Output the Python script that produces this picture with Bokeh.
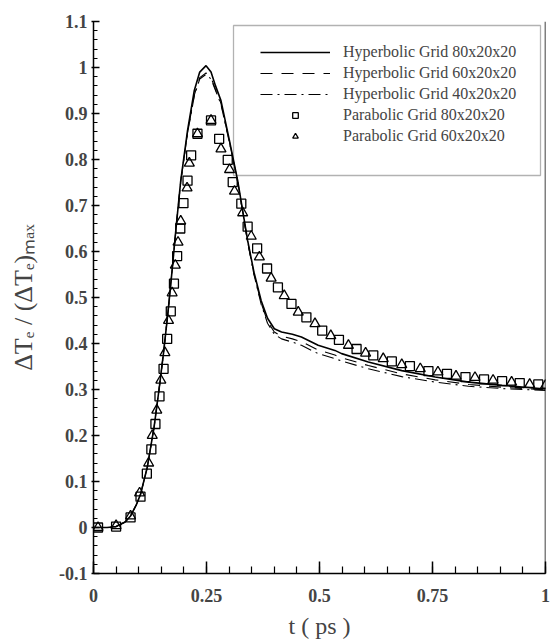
from bokeh.plotting import figure
from bokeh.models import (Range1d, SingleIntervalTicker, CustomJSTickFormatter,
                          Legend, LegendItem, BoxAnnotation, Span)
from bokeh.embed import file_html
from bokeh.resources import INLINE

# ---------------- data ----------------
hyp80_t = [0, 0.03, 0.05, 0.07, 0.082, 0.095, 0.104, 0.119, 0.134, 0.145, 0.155, 0.165, 0.175,
           0.182, 0.193, 0.208, 0.223, 0.235, 0.249, 0.26, 0.27, 0.282, 0.30, 0.319, 0.341,
           0.355, 0.371, 0.385, 0.40, 0.416, 0.44, 0.46, 0.497, 0.534, 0.549, 0.608, 0.682,
           0.756, 0.83, 0.904, 1.0]
hyp80_v = [0, 0.0, 0.002, 0.012, 0.025, 0.05, 0.072, 0.131, 0.218, 0.30, 0.38, 0.47, 0.57,
           0.645, 0.754, 0.863, 0.95, 0.99, 1.004, 0.99, 0.96, 0.928, 0.845, 0.754, 0.624,
           0.555, 0.493, 0.455, 0.432, 0.425, 0.42, 0.414, 0.396, 0.385, 0.378, 0.36, 0.341,
           0.327, 0.316, 0.309, 0.301]
hyp60_v = [0, 0.0, 0.002, 0.012, 0.025, 0.05, 0.072, 0.131, 0.218, 0.30, 0.38, 0.47, 0.57,
           0.645, 0.752, 0.858, 0.94, 0.978, 0.988, 0.978, 0.952, 0.922, 0.842, 0.752, 0.622,
           0.552, 0.488, 0.448, 0.425, 0.416, 0.41, 0.404, 0.386, 0.375, 0.369, 0.352, 0.334,
           0.321, 0.311, 0.305, 0.299]
hyp40_v = [0, 0.0, 0.002, 0.012, 0.025, 0.05, 0.072, 0.131, 0.218, 0.30, 0.38, 0.47, 0.57,
           0.645, 0.752, 0.857, 0.938, 0.975, 0.985, 0.975, 0.95, 0.92, 0.84, 0.75, 0.62,
           0.55, 0.485, 0.444, 0.42, 0.41, 0.403, 0.396, 0.378, 0.367, 0.362, 0.345, 0.328,
           0.316, 0.307, 0.302, 0.298]

par80_t = [0.01, 0.05, 0.082, 0.104, 0.118, 0.128, 0.137, 0.146, 0.155, 0.163, 0.171, 0.178,
           0.185, 0.192, 0.199, 0.208, 0.216, 0.23, 0.26, 0.278, 0.297, 0.308, 0.327, 0.341,
           0.362, 0.384, 0.408, 0.438, 0.471, 0.506, 0.543, 0.582, 0.619, 0.66, 0.70, 0.741,
           0.782, 0.823, 0.864, 0.904, 0.943, 0.984]
par80_v = [0, 0.002, 0.022, 0.067, 0.117, 0.17, 0.225, 0.285, 0.345, 0.41, 0.47, 0.53, 0.59,
           0.65, 0.705, 0.754, 0.809, 0.856, 0.885, 0.845, 0.799, 0.751, 0.704, 0.654, 0.607,
           0.563, 0.522, 0.486, 0.457, 0.428, 0.408, 0.388, 0.374, 0.361, 0.351, 0.34, 0.334,
           0.327, 0.322, 0.318, 0.314, 0.311]

par60_t = [0.01, 0.05, 0.082, 0.102, 0.122, 0.13, 0.14, 0.149, 0.158, 0.166, 0.174, 0.181,
           0.187, 0.193, 0.207, 0.212, 0.23, 0.26, 0.282, 0.301, 0.312, 0.33, 0.349, 0.367,
           0.393, 0.422, 0.453, 0.49, 0.525, 0.564, 0.602, 0.641, 0.682, 0.723, 0.762, 0.802,
           0.844, 0.884, 0.925, 0.965, 1.0]
par60_v = [0, 0.004, 0.025, 0.075, 0.14, 0.2, 0.255, 0.32, 0.38, 0.45, 0.51, 0.57, 0.62,
           0.666, 0.738, 0.792, 0.856, 0.885, 0.823, 0.778, 0.731, 0.684, 0.633, 0.588, 0.542,
           0.504, 0.468, 0.443, 0.417, 0.396, 0.379, 0.367, 0.354, 0.345, 0.338, 0.329, 0.326,
           0.32, 0.316, 0.311, 0.309]

series_labels = ["Hyperbolic Grid 80x20x20", "Hyperbolic Grid 60x20x20", "Hyperbolic Grid 40x20x20",
                 "Parabolic Grid 80x20x20", "Parabolic Grid 60x20x20"]
x_label = "t ( ps )"
y_label = "ΔTₑ / (ΔTₑ)ₘₐₓ"

# ---------------- figure ----------------
FONT = "Liberation Serif"
L, R, T, B = 93, 5, 21, 71
W, H = 550, 644
FW, FH = W - L - R, H - T - B

p = figure(width=W, height=H, output_backend="svg", toolbar_location=None,
           x_range=Range1d(0, 1), y_range=Range1d(-0.1, 1.1),
           min_border_left=L, min_border_right=R, min_border_top=T, min_border_bottom=B)
p.outline_line_color = None
p.grid.visible = False

fmt = CustomJSTickFormatter(code="return Number(tick.toFixed(2)).toString();")

xa = p.xaxis[0]
xa.ticker = SingleIntervalTicker(interval=0.25, num_minor_ticks=5)
xa.formatter = fmt
xa.axis_label = x_label
xa.axis_label_text_font = FONT
xa.axis_label_text_font_size = "24px"
xa.axis_label_text_font_style = "normal"
xa.axis_label_standoff = 8
xa.major_label_text_font = FONT
xa.major_label_text_font_size = "18px"
xa.major_label_text_font_style = "bold"
xa.major_tick_in = 12
xa.major_tick_out = 0
xa.minor_tick_in = 7
xa.minor_tick_out = 0
xa.major_label_standoff = 15
xa.axis_line_width = 1.5
xa.major_tick_line_width = 1.5
xa.minor_tick_line_width = 1.2

ya = p.yaxis[0]
ya.ticker = SingleIntervalTicker(interval=0.1, num_minor_ticks=5)
ya.formatter = fmt
ya.axis_label = y_label
ya.axis_label_text_font = FONT
ya.axis_label_text_font_size = "26px"
ya.axis_label_text_font_style = "normal"
ya.axis_label_standoff = 18
ya.major_label_text_font = FONT
ya.major_label_text_font_size = "18px"
ya.major_label_text_font_style = "bold"
ya.major_tick_in = 6
ya.major_tick_out = 2
ya.minor_tick_in = 4
ya.minor_tick_out = 0
ya.major_label_standoff = 4
ya.axis_line_width = 1.5
ya.major_tick_line_width = 1.5
ya.minor_tick_line_width = 1.2

# right-hand frame line
p.add_layout(Span(location=1, dimension="height", line_color="black", line_width=1.5))

# ---------------- series ----------------
r1 = p.line(hyp80_t, hyp80_v, line_color="black", line_width=1.6)
r2 = p.line(hyp80_t, hyp60_v, line_color="black", line_width=1.1, line_dash="12 9")
r3 = p.line(hyp80_t, hyp40_v, line_color="black", line_width=1.1, line_dash="12 5 2 5")
r4 = p.scatter(par80_t, par80_v, marker="square", size=9, fill_color=None,
               line_color="black", line_width=1.3)
r5 = p.scatter(par60_t, par60_v, marker="triangle", size=10, fill_color=None,
               line_color="black", line_width=1.3)

# ---------------- legend ----------------
def fx(px):
    return (px - L) / FW

def fy(py):
    return (T + FH - py) / FH * 1.2 - 0.1

p.add_layout(BoxAnnotation(left=fx(233), right=fx(540), top=fy(25), bottom=fy(175),
                           fill_alpha=0, line_color="black", line_width=1.3))

legend = Legend(items=[LegendItem(label=lab, renderers=[r])
                       for lab, r in zip(series_labels, [r1, r2, r3, r4, r5])],
                location=(260 - L, T + FH - 145),
                border_line_color=None, background_fill_alpha=0,
                padding=0, margin=0, spacing=3, label_height=14, glyph_height=14,
                glyph_width=70, label_standoff=13,
                label_text_font=FONT, label_text_font_size="16px")
p.add_layout(legend)

open("out.html", "w").write(file_html(p, INLINE))
